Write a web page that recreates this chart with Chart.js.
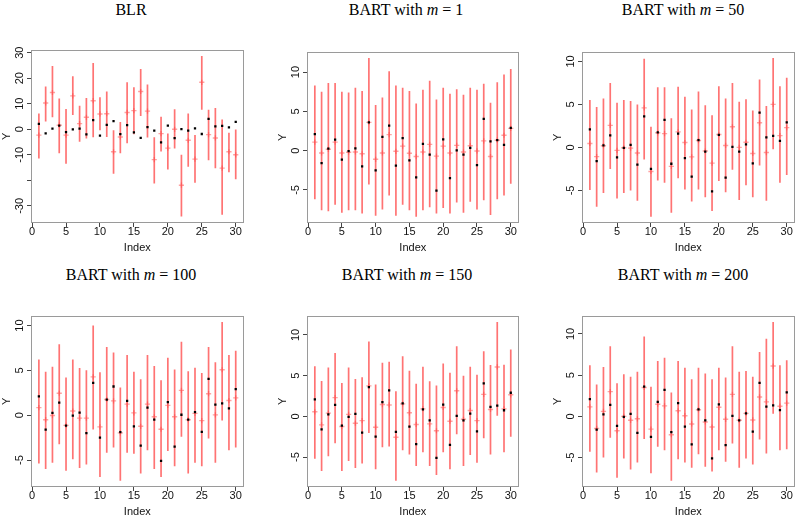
<!DOCTYPE html>
<html>
<head>
<meta charset="utf-8">
<title>BLR vs BART intervals</title>
<script src="https://cdn.jsdelivr.net/npm/chart.js"></script>
<style>
body { margin: 0; background: #fff; width: 800px; height: 516px; overflow: hidden; position: relative; }
.ttl { position: absolute; font-family: "Liberation Serif", "Times New Roman", serif; font-size: 16px; line-height: 16px; white-space: nowrap; transform: translateX(-50%); color: #000; }
canvas { position: absolute; }
</style>
</head>
<body>
<script>
// observation index and true response (black dots, same in every panel)
const idx = [1,2,3,4,5,6,7,8,9,10,11,12,13,14,15,16,17,18,19,20,21,22,23,24,25,26,27,28,29,30];
const trueY = [2.1,-1.6,0.25,1.4,-1.15,-0.05,0.3,-2.0,3.6,-2.5,1.75,3.2,-1.9,1.6,-1.25,-3.4,0.85,-0.5,-5.1,1.45,-3.5,0.05,-0.5,0.35,-1.85,4.05,1.17,1.33,0.75,2.9];

// BLR: estimate and interval
const blrEst = [-2.3,10.3,14.4,1.6,-2.3,13.1,2.2,4.7,11.2,6.0,6.1,-8.8,-3.0,6.6,7.3,14.8,7.1,-11.9,-1.7,-7.4,0.0,-21.9,-4.3,-11.7,18.4,-2.1,-3.4,-15.2,-8.8,-10.0];
const blrLo = [-11.4,3.0,4.7,-9.4,-13.5,5.6,-4.9,-3.6,-3.1,-0.4,-3.0,-17.4,-9.4,-5.5,-1.9,5.2,-3.2,-21.2,-8.7,-15.8,-7.5,-34.2,-14.7,-20.9,7.7,-12.1,-15.3,-33.5,-16.8,-19.6];
const blrHi = [6.2,16.8,24.8,12.1,7.9,20.8,9.2,12.3,26.0,12.5,14.8,-0.4,2.9,18.4,16.5,23.6,17.5,-3.1,4.9,-1.7,7.8,-10.0,6.2,-2.2,28.7,7.7,8.3,3.8,-1.4,-0.1];

// BART m = 1
const m1Est = [1.08,-0.3,0.17,1.08,-0.3,-0.2,-0.17,-0.4,3.6,-1.1,-0.3,2.04,-0.08,0.58,-0.33,-0.75,-0.17,0.8,-0.7,0.58,-0.3,0.67,-0.17,0.63,-0.04,1.25,-0.75,1.33,1.96,2.83];
const m1Lo = [-6.2,-7.6,-7.7,-6.9,-7.9,-7.6,-7.6,-8.0,-4.3,-8.3,-7.5,-5.7,-8.3,-6.9,-7.6,-8.4,-7.6,-7.2,-8.0,-7.3,-8.0,-6.6,-7.9,-6.5,-7.5,-6.3,-8.2,-6.2,-5.7,-4.2];
const m1Hi = [8.3,7.5,8.6,8.6,7.5,7.4,8.0,7.6,11.8,5.8,6.75,10.1,8.3,8.0,7.6,6.0,7.75,8.9,6.5,8.0,7.25,7.8,7.1,8.0,7.75,8.5,6.1,8.7,9.7,10.4];

// BART m = 50
const m50Est = [0.46,-1.07,0.2,2.56,-0.34,-0.04,-0.08,-0.65,4.6,-2.8,1.7,1.6,-2.2,1.8,0.57,-1.1,0.8,-0.42,-1.83,1.5,0.23,2.4,0.0,0.6,-0.7,2.86,-0.6,5.0,1.37,2.3];
const m50Lo = [-4.96,-6.9,-5.3,-2.5,-5.95,-5.3,-5.0,-6.2,-1.4,-8.05,-3.85,-4.1,-7.6,-3.6,-4.9,-6.3,-4.9,-5.8,-7.4,-3.9,-5.2,-2.6,-6.1,-4.4,-5.8,-2.1,-6.2,-0.2,-4.1,-3.2];
const m50Hi = [5.5,4.7,5.7,7.5,5.2,5.5,5.4,5.0,10.3,2.4,7.0,7.0,3.4,7.05,5.9,4.4,6.5,4.9,3.75,7.1,5.7,7.5,5.3,5.6,4.3,7.9,4.8,10.4,7.1,8.1];

// BART m = 100
const m100Est = [0.84,-0.5,-0.04,2.45,-1.13,0.47,-0.33,-0.33,4.27,-1.3,1.75,1.6,-1.97,1.24,0.26,-1.24,1.24,-0.18,-1.57,1.1,-0.18,2.77,-0.5,0.2,-0.6,2.4,0.04,5.07,1.64,1.93];
const m100Lo = [-5.4,-6.0,-5.3,-3.25,-6.2,-4.9,-5.9,-5.5,-1.6,-6.9,-4.2,-3.6,-7.3,-4.2,-4.3,-6.5,-3.9,-6.0,-6.9,-4.0,-5.7,-2.4,-6.5,-5.3,-5.7,-2.6,-5.3,-0.6,-3.9,-3.6];
const m100Hi = [6.2,4.85,5.4,7.9,4.2,6.2,5.25,5.0,10.0,4.8,7.6,7.0,3.1,6.7,4.85,4.0,6.7,5.5,3.9,6.4,5.1,8.2,4.9,5.3,4.7,7.6,5.9,10.4,6.7,7.2];

// BART m = 150
const m150Est = [0.56,-1.05,0.4,2.3,-1.25,0.24,-0.85,-0.52,3.74,-1.33,1.45,1.4,-2.57,1.53,0.44,-1.0,0.92,-0.92,-1.77,1.09,-0.6,3.14,-0.36,0.72,-0.52,2.7,0.84,6.07,0.92,2.65];
const m150Lo = [-5.2,-6.7,-4.9,-3.3,-6.7,-5.5,-6.35,-5.8,-2.05,-6.5,-3.8,-3.7,-7.9,-4.15,-4.7,-6.1,-4.4,-6.1,-7.2,-4.4,-6.5,-2.2,-6.1,-4.75,-5.7,-2.7,-4.7,0.08,-4.4,-2.5];
const m150Hi = [6.15,4.35,6.0,7.8,4.1,6.0,4.6,4.8,9.2,3.9,6.6,6.7,3.1,7.4,5.6,4.0,6.1,4.3,3.8,6.5,5.35,8.6,5.0,6.1,5.1,8.0,6.3,11.6,6.35,8.2];

// BART m = 200
const m200Est = [1.15,-1.47,0.6,3.0,-1.75,0.0,-0.48,-0.3,3.5,-1.55,1.47,1.27,-2.23,0.68,0.08,-0.92,0.8,-0.68,-1.3,1.1,-0.36,2.67,-0.48,0.36,-0.44,2.35,1.75,6.1,1.23,1.6];
const m200Lo = [-4.3,-6.8,-5.0,-2.6,-7.45,-5.1,-6.45,-5.6,-2.75,-6.9,-3.7,-4.1,-7.8,-5.2,-5.6,-6.25,-4.6,-6.1,-6.7,-4.1,-5.5,-3.3,-6.25,-5.1,-5.85,-2.8,-4.5,0.32,-4.1,-4.0];
const m200Hi = [6.2,3.86,6.0,8.5,4.0,5.1,4.8,5.4,9.67,3.6,6.7,7.1,2.9,6.7,5.9,4.5,5.9,5.2,4.5,5.9,4.7,8.5,5.4,5.5,4.8,7.8,9.4,11.45,6.2,6.8];

const xTicks = [0, 5, 10, 15, 20, 25, 30];

// panel layout: box = plot frame [left, top, right, bottom] in page pixels
const panels = [
  { title: 'BLR', est: blrEst, lo: blrLo, hi: blrHi, box: [31, 48, 246, 223], tx: 131, ty: 2, step: 10, skip: [-20], pad: -1 },
  { title: 'BART with <i>m</i> = 1', est: m1Est, lo: m1Lo, hi: m1Hi, box: [307, 48, 521, 223], tx: 406, ty: 2, step: 5, skip: [], pad: 1 },
  { title: 'BART with <i>m</i> = 50', est: m50Est, lo: m50Lo, hi: m50Hi, box: [582, 48, 797, 223], tx: 683, ty: 2, step: 5, skip: [], pad: 1 },
  { title: 'BART with <i>m</i> = 100', est: m100Est, lo: m100Lo, hi: m100Hi, box: [31, 312, 246, 487], tx: 131, ty: 267, step: 5, skip: [], pad: 1 },
  { title: 'BART with <i>m</i> = 150', est: m150Est, lo: m150Lo, hi: m150Hi, box: [307, 312, 521, 487], tx: 407, ty: 267, step: 5, skip: [], pad: 1 },
  { title: 'BART with <i>m</i> = 200', est: m200Est, lo: m200Lo, hi: m200Hi, box: [582, 312, 797, 487], tx: 683, ty: 267, step: 5, skip: [], pad: 1 }
];

// frame around the plotting region, like R's box()
const framePlugin = {
  id: 'frame',
  afterDraw(chart) {
    const a = chart.chartArea, c = chart.ctx;
    c.save();
    c.strokeStyle = '#9a9a9a';
    c.lineWidth = 1;
    c.strokeRect(Math.round(a.left) + 0.5, Math.round(a.top) + 0.5, Math.round(a.width) - 1, Math.round(a.height) - 1);
    c.restore();
  }
};

function padRange(lo, hi) {
  const r = hi - lo;
  return [lo - 0.04 * r, hi + 0.04 * r];
}

const tickFont = { family: '"Liberation Sans", Arial, sans-serif', size: 11 };

panels.forEach(p => {
  const [bl, bt, br, bb] = p.box;
  const t = document.createElement('div');
  t.className = 'ttl';
  t.style.left = p.tx + 'px';
  t.style.top = p.ty + 'px';
  t.innerHTML = p.title;
  document.body.appendChild(t);

  const cv = document.createElement('canvas');
  const w = br - bl + 34, h = bb - bt + 36;
  cv.width = w; cv.height = h;
  cv.style.left = (bl - 31) + 'px';
  cv.style.top = (bt - 4) + 'px';
  cv.style.width = w + 'px';
  cv.style.height = h + 'px';
  document.body.appendChild(cv);

  const yr = padRange(Math.min(...p.lo), Math.max(...p.hi));
  const xr = padRange(1, 30);

  new Chart(cv.getContext('2d'), {
    type: 'scatter',
    data: {
      datasets: [
        {
          label: 'true',
          data: idx.map((x, i) => ({ x: x, y: trueY[i] })),
          pointStyle: 'rect',
          pointRadius: 1.6,
          backgroundColor: '#000',
          borderColor: '#000',
          borderWidth: 0
        },
        {
          label: 'estimate',
          data: idx.map((x, i) => ({ x: x, y: p.est[i] })),
          pointStyle: 'cross',
          pointRadius: 2.6,
          borderWidth: 1.4,
          borderColor: 'rgba(255,70,70,0.5)',
          backgroundColor: 'rgba(255,70,70,0.5)'
        },
        {
          type: 'bar',
          label: 'interval',
          data: idx.map((x, i) => ({ x: x, y: [p.lo[i], p.hi[i]] })),
          backgroundColor: 'rgba(255,0,0,0.55)',
          borderWidth: 0,
          inflateAmount: 0,
          barThickness: 1.7
        }
      ]
    },
    options: {
      responsive: false,
      animation: false,
      devicePixelRatio: 1,
      layout: { padding: { top: 4, right: 3, left: 0, bottom: 0 } },
      plugins: { legend: { display: false }, tooltip: { enabled: false } },
      scales: {
        x: {
          type: 'linear',
          min: xr[0], max: xr[1],
          offset: false,
          afterFit: s => { s.height = 32; },
          afterBuildTicks: s => { s.ticks = xTicks.map(v => ({ value: v })); },
          grid: { display: true, drawOnChartArea: false, drawTicks: true, tickLength: 4, color: '#444', offset: false },
          border: { display: false },
          ticks: { font: tickFont, color: '#111', maxRotation: 0, autoSkip: false, padding: -2, includeBounds: false },
          title: { display: true, text: 'Index', font: tickFont, color: '#111', padding: { top: 0, bottom: 0 } }
        },
        y: {
          type: 'linear',
          min: yr[0], max: yr[1],
          afterFit: s => { s.width = 31; },
          grid: { display: true, drawOnChartArea: false, drawTicks: true, tickLength: 4, color: '#444' },
          border: { display: false },
          ticks: {
            font: tickFont, color: '#111', stepSize: p.step, includeBounds: false, autoSkip: false,
            minRotation: 90, maxRotation: 90, crossAlign: 'center', padding: p.pad,
            callback: v => (p.skip.includes(v) ? '' : String(v))
          },
          title: { display: true, text: 'Y', font: tickFont, color: '#111', padding: { top: 0, bottom: 0 } }
        }
      }
    },
    plugins: [framePlugin]
  });
});
</script>
</body>
</html>
